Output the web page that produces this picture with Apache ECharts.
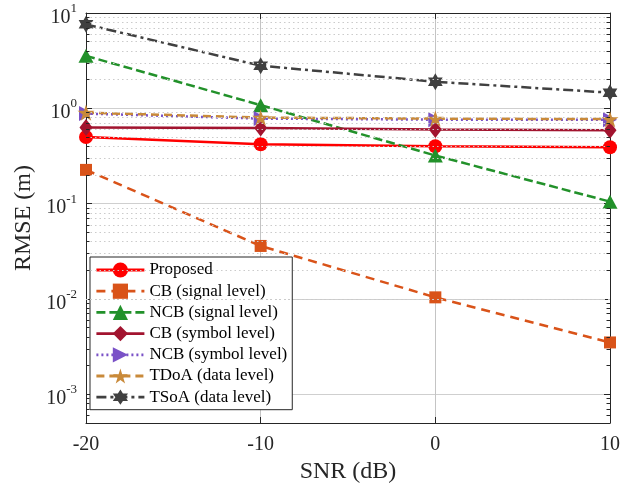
<!DOCTYPE html>
<html>
<head>
<meta charset="utf-8">
<script src="https://cdn.jsdelivr.net/npm/echarts@6/dist/echarts.min.js"></script>
<style>
  html, body { margin: 0; padding: 0; background: #ffffff; }
  #chart { width: 633px; height: 486px; }
</style>
</head>
<body>
<div id="chart"></div>
<script>
// SNR sweep (dB) and RMSE (m) of each localisation scheme
const snr = [-20, -10, 0, 10];
const proposed  = [0.50, 0.42, 0.40, 0.39];
const cbSignal  = [0.226, 0.036, 0.0104, 0.0035];
const ncbSignal = [3.55, 1.08, 0.32, 0.105];
const cbSymbol  = [0.63, 0.62, 0.60, 0.59];
const ncbSymbol = [0.88, 0.78, 0.76, 0.76];
const tdoa      = [0.90, 0.80, 0.78, 0.77];
const tsoa      = [7.6, 2.8, 1.9, 1.46];

const seriesNames = [
  'Proposed',
  'CB (signal level)',
  'NCB (signal level)',
  'CB (symbol level)',
  'NCB (symbol level)',
  'TDoA (data level)',
  'TSoA (data level)'
];

const yMin = 5e-4;
const yMax = 10;

const FONT = '"Liberation Serif", "Times New Roman", serif';
const AXIS_COLOR = '#262626';

// Minor log gridlines: 2..9 x 10^n inside the visible range
const minorValues = [];
for (let e = -4; e <= 0; e++) {
  for (let m = 2; m <= 9; m++) {
    const v = m * Math.pow(10, e);
    if (v > yMin * 1.0001 && v < yMax) minorValues.push(v);
  }
}

// Star-shaped marker outlines
function starPath(points, inner) {
  let s = 'path://';
  for (let k = 0; k < points * 2; k++) {
    const a = -Math.PI / 2 + k * Math.PI / points;
    const r = (k % 2) ? inner : 1;
    s += (k ? 'L' : 'M') + (r * Math.cos(a)).toFixed(4) + ',' + (r * Math.sin(a)).toFixed(4);
  }
  return s + 'Z';
}
const pentagram = starPath(5, 0.382);
const hexagram = starPath(6, 0.577);

function pairs(values) {
  return snr.map((x, i) => [x, values[i]]);
}

function lineSeries(name, values, color, dash, symbol, size, extra) {
  return Object.assign({
    name: name,
    type: 'line',
    data: pairs(values),
    symbol: symbol,
    symbolSize: size,
    showAllSymbol: true,
    z: 3,
    lineStyle: { color: color, width: 2.5, type: dash },
    itemStyle: { color: color, borderWidth: 0 },
    emphasis: { disabled: true }
  }, extra || {});
}

const minorGrid = minorValues.map(v => ({
  yAxis: v,
  lineStyle: { color: '#cbcbcb', width: 1, type: [1.5, 3] }
}));
const tickStyle = { color: AXIS_COLOR, width: 1, type: 'solid' };
const minorTicks = minorValues.map(v => [{ coord: [-20, v], lineStyle: tickStyle }, { coord: [-19.8, v] }])
  .concat(minorValues.map(v => [{ coord: [9.8, v], lineStyle: tickStyle }, { coord: [10, v] }]));

const chart = echarts.init(document.getElementById('chart'), null, { renderer: 'canvas' });

chart.setOption({
  animation: false,
  backgroundColor: '#ffffff',
  grid: {
    left: 86, right: 23, top: 13, bottom: 63,
    containLabel: false,
    outerBoundsMode: 'none'
  },
  legend: {
    data: seriesNames,
    orient: 'vertical',
    left: 90,
    top: 257,
    itemWidth: 48,
    itemHeight: 19,
    itemGap: 4.2,
    padding: [4.5, 5, 4, 5],
    borderColor: AXIS_COLOR,
    borderWidth: 1,
    backgroundColor: '#ffffff',
    selectedMode: false,
    lineStyle: { width: 2.8 },
    textStyle: { fontFamily: FONT, fontSize: 17, color: '#000000' }
  },
  xAxis: [
    {
      type: 'value',
      min: -20, max: 10, interval: 10,
      name: 'SNR (dB)',
      nameLocation: 'middle',
      nameGap: 29,
      nameTextStyle: { fontFamily: FONT, fontSize: 24, color: AXIS_COLOR },
      axisLine: { show: true, onZero: false, lineStyle: { color: AXIS_COLOR, width: 1 } },
      axisTick: { show: true, inside: true, length: 6, lineStyle: { color: AXIS_COLOR } },
      axisLabel: { fontFamily: FONT, fontSize: 20, color: AXIS_COLOR, margin: 12 },
      splitLine: { show: true, lineStyle: { color: '#c4c4c4', width: 1 } }
    },
    {
      type: 'value',
      position: 'top',
      min: -20, max: 10, interval: 10,
      axisLine: { show: true, onZero: false, lineStyle: { color: AXIS_COLOR, width: 1 } },
      axisTick: { show: true, inside: true, length: 6, lineStyle: { color: AXIS_COLOR } },
      axisLabel: { show: false },
      splitLine: { show: false }
    }
  ],
  yAxis: [
    {
      type: 'log',
      logBase: 10,
      min: yMin, max: yMax,
      name: 'RMSE (m)',
      nameLocation: 'middle',
      nameGap: 39,
      nameTextStyle: { fontFamily: FONT, fontSize: 24, color: AXIS_COLOR },
      axisLine: { show: true, onZero: false, lineStyle: { color: AXIS_COLOR, width: 1 } },
      axisTick: { show: true, inside: true, length: 6, lineStyle: { color: AXIS_COLOR } },
      axisLabel: {
        margin: 9,
        formatter: function (v) {
          const e = Math.log10(v);
          const r = Math.round(e);
          if (Math.abs(e - r) > 1e-6) return '';
          return '{b|10}{s|' + r + '}';
        },
        rich: {
          b: { fontFamily: FONT, fontSize: 20, color: AXIS_COLOR, padding: [9, 0, 0, 0] },
          s: { fontFamily: FONT, fontSize: 13, color: AXIS_COLOR, padding: [0, 0, 9, 0] }
        }
      },
      splitLine: { show: true, lineStyle: { color: '#cfcfcf', width: 1 } },
      minorTick: { show: false },
      minorSplitLine: { show: false }
    },
    {
      type: 'log',
      logBase: 10,
      position: 'right',
      min: yMin, max: yMax,
      axisLine: { show: true, onZero: false, lineStyle: { color: AXIS_COLOR, width: 1 } },
      axisTick: { show: true, inside: true, length: 6, lineStyle: { color: AXIS_COLOR } },
      axisLabel: { show: false },
      splitLine: { show: false }
    }
  ],
  series: [
    {
      name: 'minor-grid',
      type: 'line',
      data: [],
      z: 1,
      silent: true,
      markLine: {
        silent: true,
        symbol: 'none',
        animation: false,
        label: { show: false },
        emphasis: { disabled: true },
        data: minorGrid.concat(minorTicks)
      }
    },
    lineSeries(seriesNames[0], proposed,  '#ff0000', 'solid',        'circle',   14),
    lineSeries(seriesNames[1], cbSignal,  '#d95319', [9, 6],         'rect',     12),
    lineSeries(seriesNames[2], ncbSignal, '#22912a', [9, 4],         'triangle', [15, 14]),
    lineSeries(seriesNames[3], cbSymbol,  '#a2142f', 'solid',        'diamond',  [13, 17]),
    lineSeries(seriesNames[4], ncbSymbol, '#7a52c7', [2, 3],         'triangle', [15, 14], { symbolRotate: -90 }),
    lineSeries(seriesNames[5], tdoa,      '#c98a3a', [8, 5],         pentagram,  17, { symbolKeepAspect: true }),
    lineSeries(seriesNames[6], tsoa,      '#404040', [10, 4, 3, 4],  hexagram,   17, { symbolKeepAspect: true })
  ]
});
</script>
</body>
</html>
